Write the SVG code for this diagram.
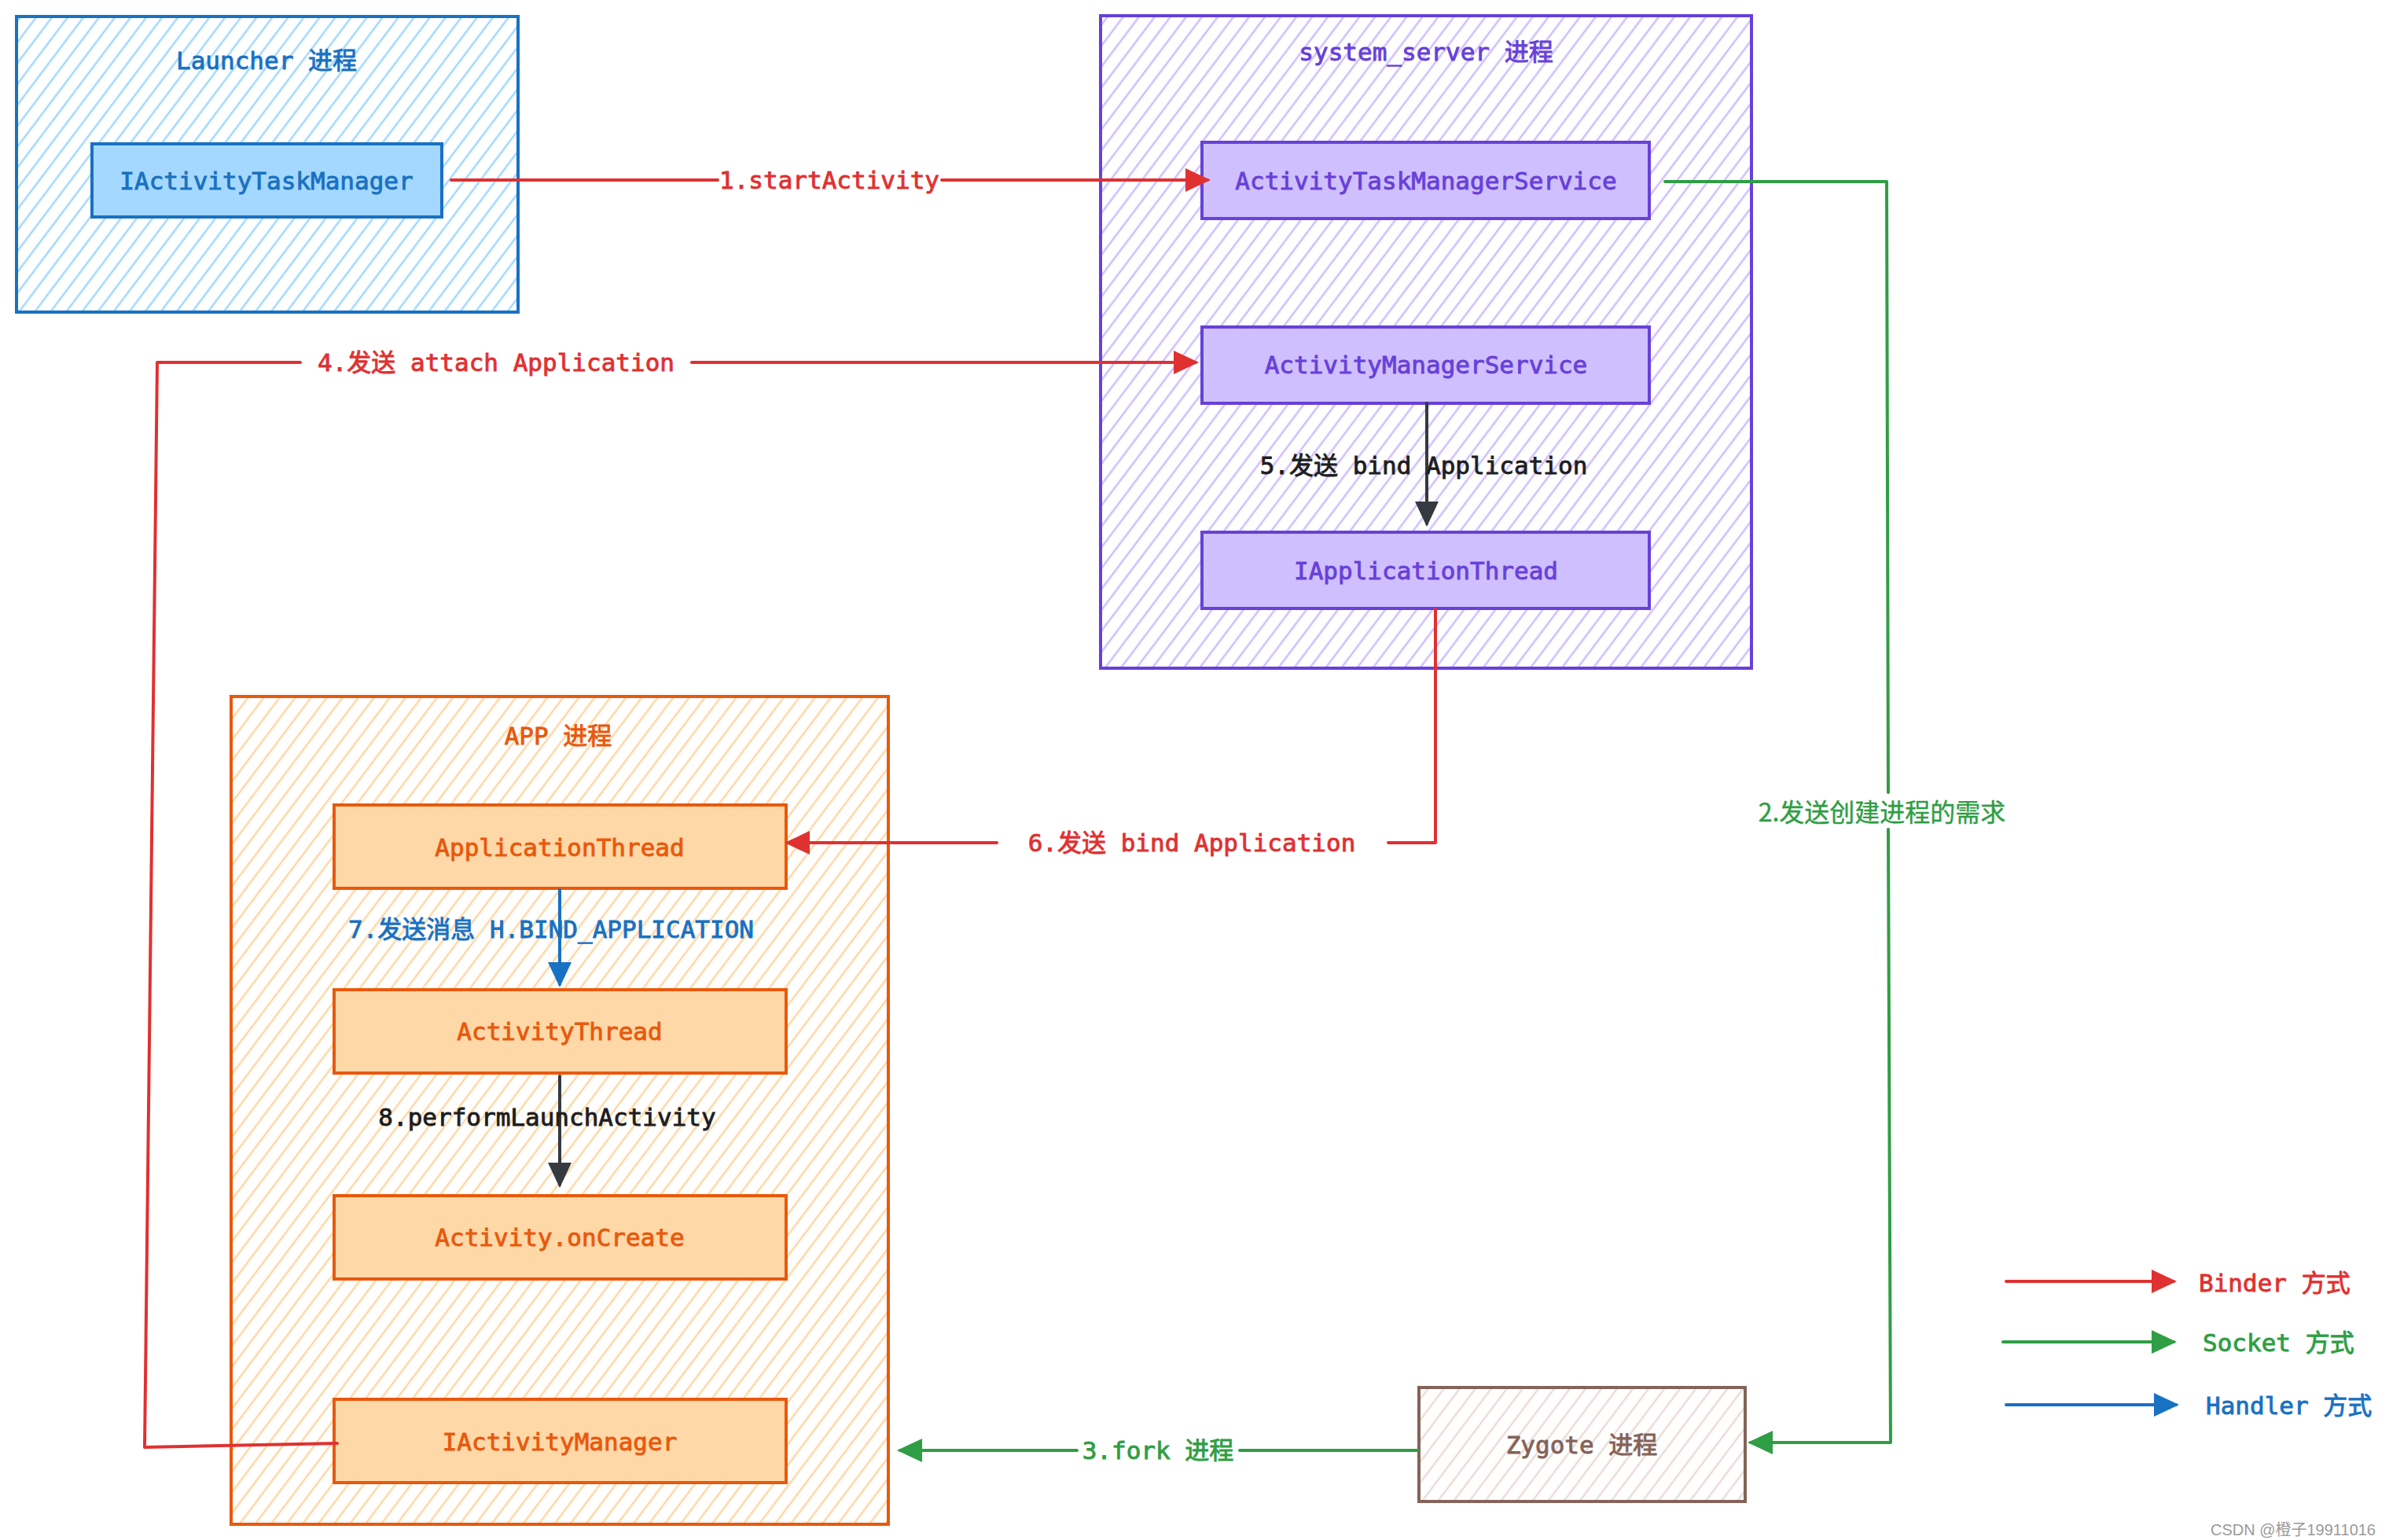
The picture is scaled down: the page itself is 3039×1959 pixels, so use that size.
<svg xmlns="http://www.w3.org/2000/svg" width="3039" height="1959" viewBox="0 0 3039 1959">
<defs>
<pattern id="hBlue" patternUnits="userSpaceOnUse" width="16" height="40" patternTransform="rotate(37)"><line x1="2" y1="-5" x2="2" y2="45" stroke="#a5d8ff" stroke-width="2.6"/></pattern>
<pattern id="hPurple" patternUnits="userSpaceOnUse" width="16" height="40" patternTransform="rotate(37)"><line x1="2" y1="-5" x2="2" y2="45" stroke="#d0bfff" stroke-width="2.6"/></pattern>
<pattern id="hOrange" patternUnits="userSpaceOnUse" width="16" height="40" patternTransform="rotate(37)"><line x1="2" y1="-5" x2="2" y2="45" stroke="#ffd8a8" stroke-width="2.6"/></pattern>
<pattern id="hBrown" patternUnits="userSpaceOnUse" width="16" height="40" patternTransform="rotate(37)"><line x1="2" y1="-5" x2="2" y2="45" stroke="#eaddd7" stroke-width="2.6"/></pattern>
<marker id="aRed" markerUnits="userSpaceOnUse" markerWidth="34" markerHeight="32" refX="28" refY="15" orient="auto"><path d="M0,0 L32,15 L0,30 Z" fill="#e03131"/></marker>
<marker id="aGreen" markerUnits="userSpaceOnUse" markerWidth="34" markerHeight="32" refX="28" refY="15" orient="auto"><path d="M0,0 L32,15 L0,30 Z" fill="#2f9e44"/></marker>
<marker id="aBlue" markerUnits="userSpaceOnUse" markerWidth="34" markerHeight="32" refX="28" refY="15" orient="auto"><path d="M0,0 L32,15 L0,30 Z" fill="#1971c2"/></marker>
<marker id="aDark" markerUnits="userSpaceOnUse" markerWidth="34" markerHeight="32" refX="28" refY="15" orient="auto"><path d="M0,0 L32,15 L0,30 Z" fill="#343a40"/></marker>
</defs>
<style>
text{font-family:"DejaVu Sans Mono","Liberation Mono","Noto Sans CJK SC",monospace;font-size:31px;text-anchor:middle;dominant-baseline:central;stroke-width:0.9px}
.cont{stroke-width:4}
.node{stroke-width:4}
.blue{fill:#1971c2;stroke:#1971c2}.purple{fill:#6741d9;stroke:#6741d9}.orange{fill:#e8590c;stroke:#e8590c}.brown{fill:#846358;stroke:#846358}
.red{fill:#e03131;stroke:#e03131}.green{fill:#2f9e44;stroke:#2f9e44}.dark{fill:#1e1e1e;stroke:#1e1e1e}
.ln{fill:none;stroke-width:4;stroke-linejoin:round;stroke-linecap:round}
.lr{stroke:#e03131}.lg{stroke:#2f9e44}.lb{stroke:#1971c2}.ld{stroke:#343a40}
.sans{font-family:"Noto Sans CJK SC","Noto Sans",sans-serif;font-size:32px;stroke-width:0.4px}
.wm{font-family:"Liberation Sans","Noto Sans CJK SC",sans-serif;font-size:20px;fill:#9a9a9a;text-anchor:end;stroke:none}
</style>
<rect width="3039" height="1959" fill="#ffffff"/>

<g id="launcher">
<rect class="cont" x="21" y="21" width="638" height="376" fill="url(#hBlue)" stroke="#1971c2"/>
<text class="blue" x="339" y="77">Launcher 进程</text>
</g>
<g id="system_server">
<rect class="cont" x="1400" y="20" width="828" height="830" fill="url(#hPurple)" stroke="#6741d9"/>
<text class="purple" x="1814" y="66">system_server 进程</text>
</g>
<g id="app">
<rect class="cont" x="294" y="886" width="836" height="1053" fill="url(#hOrange)" stroke="#e8590c"/>
<text class="orange" x="710" y="936">APP 进程</text>
</g>

<g id="IActivityTaskManager">
<rect class="node" x="117" y="183" width="445" height="93" fill="#a5d8ff" stroke="#1971c2"/>
<text class="blue" x="339" y="230">IActivityTaskManager</text>
</g>
<g id="ActivityTaskManagerService">
<rect class="node" x="1529" y="181" width="569" height="97" fill="#d0bfff" stroke="#6741d9"/>
<text class="purple" x="1814" y="230">ActivityTaskManagerService</text>
</g>
<g id="ActivityManagerService">
<rect class="node" x="1529" y="416" width="569" height="97" fill="#d0bfff" stroke="#6741d9"/>
<text class="purple" x="1814" y="464">ActivityManagerService</text>
</g>
<g id="IApplicationThread">
<rect class="node" x="1529" y="677" width="569" height="97" fill="#d0bfff" stroke="#6741d9"/>
<text class="purple" x="1814" y="726">IApplicationThread</text>
</g>
<g id="ApplicationThread">
<rect class="node" x="425" y="1024" width="575" height="106" fill="#ffd8a8" stroke="#e8590c"/>
<text class="orange" x="712" y="1078">ApplicationThread</text>
</g>
<g id="ActivityThread">
<rect class="node" x="425" y="1259" width="575" height="106" fill="#ffd8a8" stroke="#e8590c"/>
<text class="orange" x="712" y="1312">ActivityThread</text>
</g>
<g id="ActivityOnCreate">
<rect class="node" x="425" y="1521" width="575" height="106" fill="#ffd8a8" stroke="#e8590c"/>
<text class="orange" x="712" y="1574">Activity.onCreate</text>
</g>
<g id="IActivityManager">
<rect class="node" x="425" y="1780" width="575" height="106" fill="#ffd8a8" stroke="#e8590c"/>
<text class="orange" x="712" y="1834">IActivityManager</text>
</g>
<g id="zygote">
<rect class="node" x="1805" y="1765" width="415" height="145" fill="url(#hBrown)" stroke="#846358"/>
<text class="brown" x="2012" y="1838">Zygote 进程</text>
</g>

<g id="connectors">
<path class="ln lr" d="M574,229 L913,229"/>
<path class="ln lr" d="M1198,229 L1536,229" marker-end="url(#aRed)"/>
<path class="ln lg" d="M2118,231 L2400,231 L2402,1008"/>
<path class="ln lg" d="M2402,1055 L2405,1835 L2227,1835" marker-end="url(#aGreen)"/>
<path class="ln lg" d="M1804,1845 L1577,1845"/>
<path class="ln lg" d="M1370,1845 L1145,1845" marker-end="url(#aGreen)"/>
<path class="ln lr" d="M429,1836 L184,1841 L200,461 L382,461"/>
<path class="ln lr" d="M880,461 L1521,461" marker-end="url(#aRed)"/>
<path class="ln ld" d="M1815,513 L1815,666" marker-end="url(#aDark)"/>
<path class="ln lr" d="M1826,775 L1826,1072 L1766,1072"/>
<path class="ln lr" d="M1268,1072 L1002,1072" marker-end="url(#aRed)"/>
<path class="ln lb" d="M712,1132 L712,1252" marker-end="url(#aBlue)"/>
<path class="ln ld" d="M712,1369 L712,1507" marker-end="url(#aDark)"/>
<path class="ln lr" d="M2552,1630 L2765,1630" marker-end="url(#aRed)"/>
<path class="ln lg" d="M2548,1707 L2765,1707" marker-end="url(#aGreen)"/>
<path class="ln lb" d="M2552,1787 L2768,1787" marker-end="url(#aBlue)"/>
</g>

<g id="labels">
<text class="red" x="1055" y="229">1.startActivity</text>
<text class="green sans" x="2394" y="1031">2.发送创建进程的需求</text>
<text class="green" x="1473" y="1845">3.fork 进程</text>
<text class="red" x="631" y="461">4.发送 attach Application</text>
<text class="dark" x="1811" y="592">5.发送 bind Application</text>
<text class="red" x="1516" y="1072">6.发送 bind Application</text>
<text class="blue" x="701" y="1182">7.发送消息 H.BIND_APPLICATION</text>
<text class="dark" x="696" y="1421">8.performLaunchActivity</text>
</g>

<g id="legend">
<text class="red" x="2797" y="1632" style="text-anchor:start">Binder 方式</text>
<text class="green" x="2802" y="1708" style="text-anchor:start">Socket 方式</text>
<text class="blue" x="2806" y="1788" style="text-anchor:start">Handler 方式</text>
</g>
<text class="wm" x="3022" y="1946">CSDN @橙子19911016</text>
</svg>
